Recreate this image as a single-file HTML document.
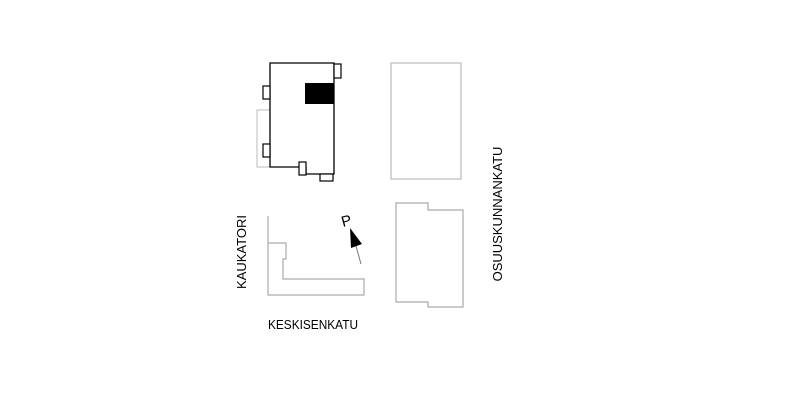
<!DOCTYPE html>
<html><head><style>
html,body{margin:0;padding:0;background:#fff;}
svg{display:block;}
text{font-family:"Liberation Sans",Arial,sans-serif;fill:#000;}
</style></head><body>
<svg width="800" height="400" viewBox="0 0 800 400" xmlns="http://www.w3.org/2000/svg">
<rect width="800" height="400" fill="#fff"/>
<polyline points="270,110 257,110 257,167 270,167" fill="none" stroke="#bbb" stroke-width="1"/>
<polygon points="270,63 334,63 334,174 306,174 306,167 270,167" fill="#fff" stroke="#000" stroke-width="1.3"/>
<rect x="334" y="64" width="7" height="14" fill="#fff" stroke="#000" stroke-width="1.2"/>
<rect x="263" y="86" width="7" height="13" fill="#fff" stroke="#000" stroke-width="1.2"/>
<rect x="263" y="144" width="7" height="13" fill="#fff" stroke="#000" stroke-width="1.2"/>
<rect x="299" y="162" width="7" height="13" fill="#fff" stroke="#000" stroke-width="1.2"/>
<rect x="320" y="174" width="13" height="7" fill="#fff" stroke="#000" stroke-width="1.2"/>
<rect x="305" y="83" width="29" height="21" fill="#000"/>
<rect x="391" y="63" width="70" height="116" fill="none" stroke="#bbb" stroke-width="1.2"/>
<polyline points="268,216 268,295 364,295 364,279 283,279 283,259 286,259 286,243 268,243" fill="none" stroke="#aaa" stroke-width="1.2"/>
<polygon points="396,203 428,203 428,210 463,210 463,307 428,307 428,302 396,302" fill="none" stroke="#aaa" stroke-width="1.2"/>
<line x1="356" y1="246" x2="361" y2="264" stroke="#777" stroke-width="1"/>
<polygon points="350,228 351,248 362,244" fill="#000"/>
<text x="341" y="227" font-size="15" transform="rotate(-15 342 220)">P</text>
<text x="0" y="0" font-size="13" text-anchor="middle" transform="translate(246,252) rotate(-90)">KAUKATORI</text>
<text x="268" y="329" font-size="13" textLength="90" lengthAdjust="spacingAndGlyphs">KESKISENKATU</text>
<text x="0" y="0" font-size="13" text-anchor="middle" transform="translate(502,214) rotate(-90)">OSUUSKUNNANKATU</text>
</svg>
</body></html>
